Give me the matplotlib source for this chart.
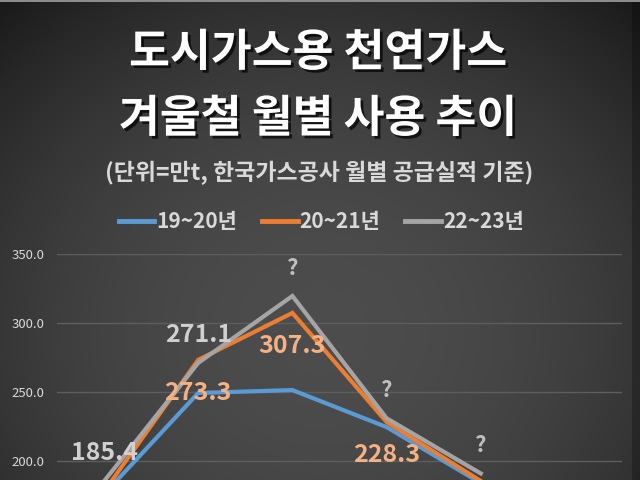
import numpy as np
import matplotlib
matplotlib.use("Agg")
import matplotlib.pyplot as plt
import matplotlib.patheffects as pe

plt.rcParams['font.family'] = ['Noto Sans CJK KR', 'DejaVu Sans']

# ---- data ----
months = ['10월', '11월', '12월', '1월', '2월', '3월']
s1920 = [176.0, 249.3, 251.4, 224.6, 184.0, 170.0]
s2021 = [178.0, 273.3, 307.3, 228.3, 185.5, 172.0]
s2223 = [185.4, 271.1, 319.6, 231.0, 191.0]
labels_2223 = ['185.4', '271.1', '?', '?', '?']
labels_2021 = [None, '273.3', '307.3', '228.3', None]
series_names = ['19~20년', '20~21년', '22~23년']
yticks = [200, 250, 300, 350]

title1 = '도시가스용 천연가스'
title2 = '겨울철 월별 사용 추이'
subtitle = '(단위=만t, 한국가스공사 월별 공급실적 기준)'

c_blue = '#5b9bd5'
c_orange = '#ed7d31'
c_gray = '#a5a5a5'

fig = plt.figure(figsize=(6.4, 4.8), dpi=100)

# background gradient
bg = fig.add_axes([0, 0, 1, 1], zorder=0)
H, W = 480, 640
yy, xx = np.mgrid[0:H, 0:W]
r2 = ((xx - 320) / 420.0) ** 2 + ((yy - 330) / 380.0) ** 2
val = 0.30 - 0.15 * np.clip(r2, 0, 1.5)
img = np.dstack([val, val, val])
img[:, 632:, :] *= 0.75
img[0:2, :, :] = 0.55
bg.imshow(np.clip(img, 0, 1), aspect='auto', extent=[0, 1, 0, 1], origin='upper')
bg.set_axis_off()

# main axes (extends below figure bottom, as in the cropped reference)
ax = fig.add_axes([57 / 640, -0.1042, 565 / 640, 0.575], zorder=1)
ax.patch.set_alpha(0)
x = np.arange(len(months))
ax.set_xlim(-0.5, len(months) - 0.5)
ax.set_ylim(150, 350)
ax.set_yticks(yticks)
ax.set_yticklabels([f'{v:.1f}' for v in yticks], color='#d9d9d9', fontsize=9.5)
ax.tick_params(axis='y', length=0, pad=9)
ax.tick_params(axis='x', length=0, labelbottom=False)
for s in ax.spines.values():
    s.set_visible(False)
ax.grid(axis='y', color='#5e5e5e', linewidth=1)
ax.set_axisbelow(True)

l1, = ax.plot(x[:len(s1920)], s1920, color=c_blue, lw=3, solid_joinstyle='miter', zorder=3)
l2, = ax.plot(x[:len(s2021)], s2021, color=c_orange, lw=3, solid_joinstyle='miter', zorder=4)
l3, = ax.plot(x[:len(s2223)], s2223, color=c_gray, lw=3, solid_joinstyle='miter', zorder=5)

for i, lab in enumerate(labels_2223):
    if lab is None:
        continue
    ax.annotate(lab, (x[i], s2223[i]), xytext=(0, 20), textcoords='offset points',
                ha='center', va='center', fontsize=18 if lab != '?' else 16,
                fontweight='bold', color='#d0d0d0' if lab != '?' else '#bfbfbf', zorder=6)
for i, lab in enumerate(labels_2021):
    if lab is None:
        continue
    ax.annotate(lab, (x[i], s2021[i]), xytext=(0, -24), textcoords='offset points',
                ha='center', va='center', fontsize=18, fontweight='bold',
                color='#f4b183', zorder=6)

# titles
shadow = [pe.withSimplePatchShadow(offset=(2, -2), shadow_rgbFace='black', alpha=0.7)]
fig.text(0.497, 1 - 53 / 480, title1, ha='center', va='center', fontsize=32,
         fontweight='bold', color='white', path_effects=shadow)
fig.text(0.497, 1 - 119 / 480, title2, ha='center', va='center', fontsize=32,
         fontweight='bold', color='white', path_effects=shadow)
fig.text(0.498, 1 - 173 / 480, subtitle, ha='center', va='center', fontsize=16.5,
         fontweight='bold', color='#d9d9d9')

# legend
leg = fig.legend([l1, l2, l3], series_names, loc='center', bbox_to_anchor=(0.502, 1 - 222 / 480),
                 ncol=3, frameon=False, handlelength=1.7, handletextpad=0.1,
                 columnspacing=1.2, prop={'size': 15, 'weight': 'bold'})
for t in leg.get_texts():
    t.set_color('#d9d9d9')
for h in leg.legend_handles:
    h.set_linewidth(3.5)

fig.savefig('out.png', dpi=100)
